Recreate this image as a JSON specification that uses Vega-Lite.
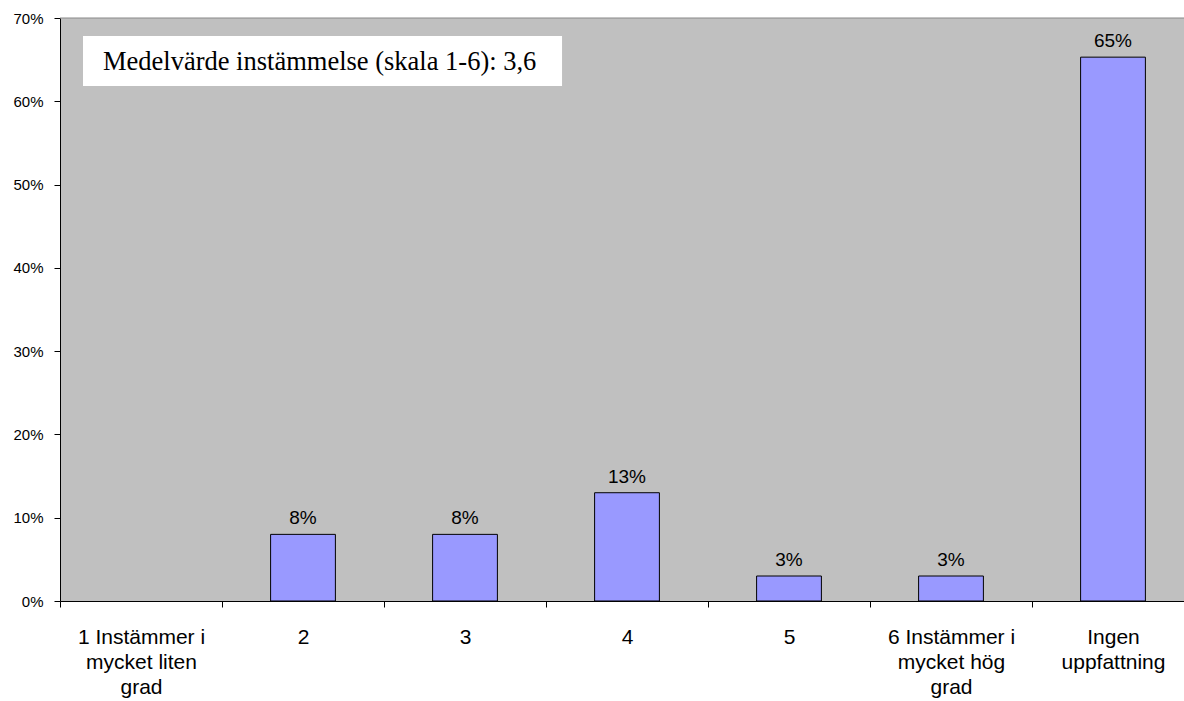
{
  "$schema": "https://vega.github.io/schema/vega-lite/v6.json",
  "width": 1124,
  "height": 583,
  "autosize": {"type": "none"},
  "padding": {"left": 60, "top": 18, "right": 0, "bottom": 100},
  "background": "white",
  "config": {"view": {"fill": "#C0C0C0", "stroke": null}, "font": "Liberation Sans"},
  "layer": [
    {
      "data": {
        "values": [
          {"kategori": "1 Instämmer i mycket liten grad", "andel": 0},
          {"kategori": "2", "andel": 0.08},
          {"kategori": "3", "andel": 0.08},
          {"kategori": "4", "andel": 0.13},
          {"kategori": "5", "andel": 0.03},
          {"kategori": "6 Instämmer i mycket hög grad", "andel": 0.03},
          {"kategori": "Ingen uppfattning", "andel": 0.653}
        ]
      },
      "transform": [{"filter": "datum.andel > 0"}],
      "layer": [
        {
          "mark": {"type": "bar", "fill": "#9999FF", "stroke": "#000000", "strokeWidth": 1, "width": {"band": 0.4}},
          "encoding": {
            "x": {
              "field": "kategori", "type": "nominal", "sort": null,
              "scale": {
                "domain": ["1 Instämmer i mycket liten grad", "2", "3", "4", "5", "6 Instämmer i mycket hög grad", "Ingen uppfattning"],
                "range": [0, 1134], "paddingInner": 0, "paddingOuter": 0
              },
              "axis": {
                "title": null, "labelAngle": 0, "labelFontSize": 21, "labelColor": "#000000",
                "labelPadding": 19, "tickSize": 6, "tickBand": "extent", "tickColor": "#000000",
                "domainColor": "#000000", "labelLineHeight": 25, "labelBaseline": "top",
                "labelExpr": "datum.value == '1 Instämmer i mycket liten grad' ? ['1 Instämmer i', 'mycket liten', 'grad'] : datum.value == '6 Instämmer i mycket hög grad' ? ['6 Instämmer i', 'mycket hög', 'grad'] : datum.value == 'Ingen uppfattning' ? ['Ingen', 'uppfattning'] : datum.value"
              }
            },
            "y": {
              "field": "andel", "type": "quantitative",
              "scale": {"domain": [0, 0.7], "nice": false},
              "axis": {
                "title": null, "values": [0, 0.1, 0.2, 0.3, 0.4, 0.5, 0.6, 0.7], "format": ".0%",
                "grid": false, "domainColor": "#000000", "tickColor": "#000000", "tickSize": 6,
                "labelFontSize": 15, "labelColor": "#000000", "labelPadding": 11
              }
            }
          }
        },
        {
          "mark": {"type": "text", "dy": -10, "fontSize": 19, "color": "#000000", "baseline": "alphabetic"},
          "encoding": {
            "x": {"field": "kategori", "type": "nominal", "sort": null},
            "y": {"field": "andel", "type": "quantitative"},
            "text": {"field": "andel", "type": "quantitative", "format": ".0%"}
          }
        }
      ]
    },
    {
      "data": {"values": [{}]},
      "mark": {"type": "rule", "color": "#888888"},
      "encoding": {"y": {"datum": 0.7}}
    },
    {
      "data": {"values": [{}]},
      "layer": [
        {
          "mark": {"type": "rect", "fill": "#FFFFFF"},
          "encoding": {
            "x": {"datum": 0.142, "type": "quantitative", "scale": {"domain": [0, 7], "range": [0, 1134]}, "axis": null},
            "x2": {"datum": 3.099},
            "y": {"datum": 0.6184},
            "y2": {"datum": 0.6784}
          }
        },
        {
          "mark": {"type": "text", "align": "left", "baseline": "alphabetic", "font": "Liberation Serif", "fontSize": 26.5, "color": "#000000", "text": "Medelvärde instämmelse (skala 1-6): 3,6"},
          "encoding": {
            "x": {"datum": 0.265, "type": "quantitative"},
            "y": {"datum": 0.637}
          }
        }
      ]
    }
  ],
  "resolve": {"scale": {"x": "independent"}}
}
